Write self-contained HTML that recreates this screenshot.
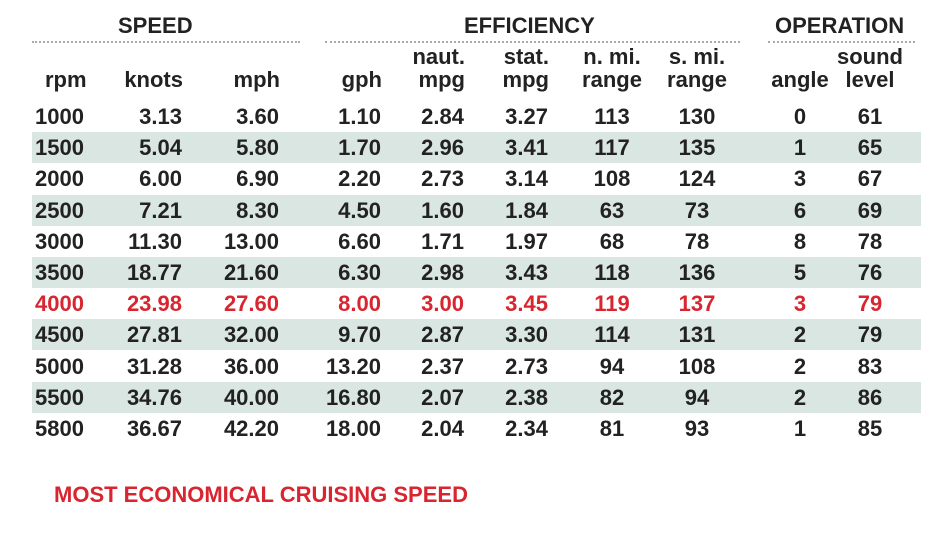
<!DOCTYPE html>
<html><head><meta charset="utf-8"><style>
body{margin:0;background:#fff;}
#wrap{position:relative;width:936px;height:538px;overflow:hidden;font-family:"Liberation Sans",Arial,sans-serif;font-weight:bold;color:#222;}
.t{position:absolute;white-space:nowrap;font-size:22px;line-height:22px;}
.h{position:absolute;white-space:nowrap;font-size:22px;line-height:22px;}
.ln{position:absolute;height:0;border-top:2px dotted #aaa;}
.band{position:absolute;left:32px;width:889px;height:31px;background:#d9e6e1;}
</style></head><body>
<div id="wrap">
<div class="h" style="left:118px;top:15px">SPEED</div>
<div class="ln" style="left:32px;width:268px;top:41px"></div>
<div class="h" style="left:464px;top:15px">EFFICIENCY</div>
<div class="ln" style="left:325px;width:415px;top:41px"></div>
<div class="h" style="left:775px;top:15px">OPERATION</div>
<div class="ln" style="left:768px;width:147px;top:41px"></div>
<div class="t" style="left:54px;top:484px;color:#d9252f;font-size:22px">MOST ECONOMICAL CRUISING SPEED</div>
</div>
<script>
const rpm=["1000","1500","2000","2500","3000","3500","4000","4500","5000","5500","5800"];
const knots=["3.13","5.04","6.00","7.21","11.30","18.77","23.98","27.81","31.28","34.76","36.67"];
const mph=["3.60","5.80","6.90","8.30","13.00","21.60","27.60","32.00","36.00","40.00","42.20"];
const gph=["1.10","1.70","2.20","4.50","6.60","6.30","8.00","9.70","13.20","16.80","18.00"];
const nautMpg=["2.84","2.96","2.73","1.60","1.71","2.98","3.00","2.87","2.37","2.07","2.04"];
const statMpg=["3.27","3.41","3.14","1.84","1.97","3.43","3.45","3.30","2.73","2.38","2.34"];
const nRange=["113","117","108","63","68","118","119","114","94","82","81"];
const sRange=["130","135","124","73","78","136","137","131","108","94","93"];
const angle=["0","1","3","6","8","5","3","2","2","2","1"];
const sound=["61","65","67","69","78","76","79","79","83","86","85"];
const highlightRow=6;
const W=document.getElementById('wrap');
const cols=[[rpm,35,'l','','rpm','rpm'],[knots,182,'r','','knots','knots'],[mph,279,'r','','mph','mph'],[gph,381,'r','','gph','gph'],[nautMpg,464,'r','naut.','mpg','naut-mpg'],[statMpg,548,'r','stat.','mpg','stat-mpg'],[nRange,612,'c','n. mi.','range','n-mi-range'],[sRange,697,'c','s. mi.','range','s-mi-range'],[angle,800,'c','','angle','angle'],[sound,870,'c','sound','level','sound-level']];
function place(el,x,al,y){
  el.style.top=y+'px';
  if(al==='l'){el.style.left=x+'px';}
  else if(al==='r'){el.style.right=(936-x)+'px';}
  else{el.style.left=x+'px';el.style.transform='translateX(-50%)';}
}
const rowY=i=>105+i*31.2;
rpm.forEach((r,i)=>{if(i%2===1){const b=document.createElement('div');b.className='band';b.style.top=(rowY(i)-4)+'px';


W.appendChild(b);}});
cols.forEach(c=>{
  const hx=c[2]==='l'?45:c[1];
  const hal=c[2];
  [[c[3],46],[c[4],69]].forEach(([txt,y])=>{if(!txt)return;const e=document.createElement('div');e.className='t';e.textContent=txt;
  
  
  place(e,c[2]==='r'?c[1]+1:hx,hal,y);W.appendChild(e);});
  c[0].forEach((v,i)=>{const e=document.createElement('div');e.className='t';e.textContent=v;
  
  
  if(i===highlightRow)e.style.color='#d9252f';
  place(e,c[1],c[2],rowY(i)+1);W.appendChild(e);});
});
</script>
</body></html>
